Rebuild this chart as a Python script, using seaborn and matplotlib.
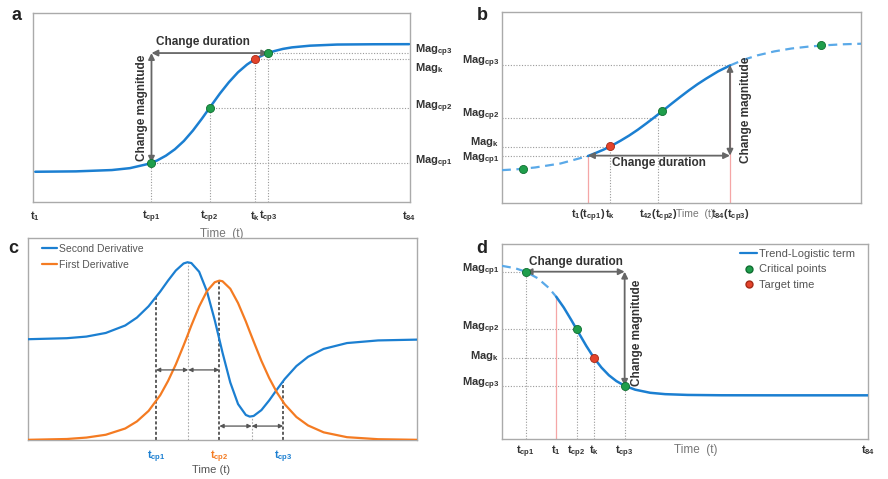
import numpy as np
import matplotlib
matplotlib.use("Agg")
import matplotlib.pyplot as plt
from matplotlib.lines import Line2D
import seaborn as sns

# ---- panel a: increasing logistic, critical points inside the series
a_time = [1, 10, 18, 22, 26, 28, 30, 32, 34, 36, 38, 40, 42, 44, 46, 48, 50, 52, 54, 56, 58, 62, 68, 76, 84]
a_radiance = [16.0, 16.2, 16.9, 17.9, 20.1, 21.9, 24.5, 27.9, 32.3, 37.8, 44.1, 50.8, 57.4, 63.4, 68.6,
              72.7, 75.9, 78.2, 79.8, 81.0, 81.8, 82.7, 83.3, 83.45, 83.5]
a_crit_t = [26.8, 39.7, 52.7]
a_crit_mag = [20.8, 49.8, 78.8]
a_k_t = 49.7
a_k_mag = 75.5
a_ticks = [1, 26.8, 39.7, 49.7, 52.7, 84]
a_ticklabels = [r"$\mathbf{t_1}$", r"$\mathbf{t_{cp1}}$", r"$\mathbf{t_{cp2}}$", r"$\mathbf{t_k}$",
                r"$\mathbf{t_{cp3}}$", r"$\mathbf{t_{84}}$"]

# ---- panel b: series window covers only part of the logistic
b_time = [-49.3, -40, -30, -15, 1, 5, 10, 15, 20, 25, 30, 35, 40, 45, 50, 55, 60, 65, 70, 77, 84,
          92, 100, 110, 120, 130, 140, 150, 160.6]
b_radiance = [17.2, 17.7, 18.6, 20.7, 24.6, 26.0, 27.9, 30.1, 32.6, 35.3, 38.3, 41.6, 45.0, 48.5, 52.1,
              55.6, 59.0, 62.2, 65.1, 68.9, 72.0, 75.0, 77.3, 79.4, 80.9, 81.9, 82.6, 83.1, 83.4]
b_crit_t = [-37, 44.3, 137.2]
b_crit_mag = [18.0, 48.0, 82.5]
b_k_t = 13.9
b_k_mag = 29.6
b_mag_levels = {"cp3": 72.3, "cp2": 44.5, "k": 29.5, "cp1": 24.8}
b_mag_times = {"cp3": 84, "cp2": 42, "k": 13.9, "cp1": 1}
b_ticks = [1, 13.9, 42, 84]
b_ticklabels = [r"$\mathbf{t_1(t_{cp1})}$", r"$\mathbf{t_k}$", r"$\mathbf{t_{42}(t_{cp2})}$",
                r"$\mathbf{t_{84}(t_{cp3})}$"]

# ---- panel c: derivatives
c_x = [0, 10, 15, 20, 25, 28, 31, 34, 36, 38, 40, 41, 42, 44, 46, 48, 49.2, 50, 52, 54, 56, 57, 58,
       60, 62, 64, 66, 69, 72, 76, 82, 90, 100]
c_second = [49.9, 50.4, 51.2, 53.0, 56.7, 60.6, 66.2, 73.5, 78.9, 83.9, 87.4, 88.0, 87.6, 83.3, 73.6,
            59.4, 49.8, 43.3, 28.5, 17.8, 12.4, 11.6, 11.9, 14.8, 19.6, 25.0, 30.2, 36.6, 41.2, 45.1,
            48.0, 49.3, 49.7]
c_first = [0.1, 0.5, 1.2, 2.6, 5.7, 9.2, 14.4, 22.2, 29.2, 37.4, 46.8, 51.7, 56.7, 66.1, 73.7, 78.1,
           78.9, 78.6, 74.9, 67.8, 58.7, 53.7, 48.8, 39.2, 30.7, 23.5, 17.7, 11.4, 7.2, 3.8, 1.4, 0.4, 0.1]
c_cp_x = [32.9, 49.2, 65.6]
c_cp_top = [70.8, 78.9, 28.5]
c_ext_x = [41.2, 57.5]
c_ext_top = [88.0, 11.6]
c_ticklabels = [r"$\mathbf{t_{cp1}}$", r"$\mathbf{t_{cp2}}$", r"$\mathbf{t_{cp3}}$"]

# ---- panel d: decreasing logistic
d_time = [-13.46, -10, -7.15, -4, -1, 1, 3, 5, 7, 9, 11, 13, 15, 17, 19.2, 22, 26, 30, 36, 45, 60, 84]
d_radiance = [88.8, 87.6, 85.8, 82.5, 77.5, 72.9, 67.4, 61.0, 54.3, 47.7, 41.7, 36.7, 32.7, 29.7, 27.3,
              25.3, 23.7, 23.0, 22.6, 22.43, 22.4, 22.4]
d_crit_t = [-7.15, 6.43, 19.2]
d_crit_mag = [85.8, 56.2, 27.3]
d_k_t = 11.04
d_k_mag = 41.6
d_ticks = [-7.15, 1, 6.43, 11.04, 19.2, 84]
d_ticklabels = [r"$\mathbf{t_{cp1}}$", r"$\mathbf{t_1}$", r"$\mathbf{t_{cp2}}$", r"$\mathbf{t_k}$",
                r"$\mathbf{t_{cp3}}$", r"$\mathbf{t_{84}}$"]

BLUE = "#1b7fd1"
LBLUE = "#5aa9e8"
ORANGE = "#f47b22"
GREEN = "#1f9e4b"
RED = "#e4432b"
PINK = "#f5a6a6"
GUIDE = "#9a9a9a"
ARROW = "#666666"
TXT = "#333333"
GREY_TXT = "#777777"

sns.set_style("white")
plt.rcParams["font.family"] = ["Liberation Sans", "DejaVu Sans"]
plt.rcParams["mathtext.fontset"] = "custom"
plt.rcParams["mathtext.rm"] = "Liberation Sans"
plt.rcParams["mathtext.bf"] = "Liberation Sans:bold"
plt.rcParams["mathtext.it"] = "Liberation Sans:italic"
plt.rcParams["font.size"] = 8

YLABEL = "Radiance / nWatts/cm²/sr"
TICK_FS = 7.8
MAG_FS = 8


def style_axes(ax):
    for s in ax.spines.values():
        s.set_color("#aaaaaa")
        s.set_linewidth(1.0)
    ax.set_yticks([])
    ax.tick_params(axis="x", length=0, colors=TXT, labelsize=TICK_FS)


def guide(ax, x0, y0, x1, y1, color=GUIDE, ls=(0, (1, 1.5)), lw=0.8):
    ax.plot([x0, x1], [y0, y1], color=color, ls=ls, lw=lw, zorder=1)


def arrow(ax, p0, p1, lw=1.3, ms=9, color=ARROW):
    ax.annotate("", xy=p1, xytext=p0,
                arrowprops=dict(arrowstyle="<|-|>", color=color, lw=lw, mutation_scale=ms,
                                shrinkA=0, shrinkB=0), zorder=4)


def points(ax, xs, ys, color, edge):
    sns.scatterplot(x=xs, y=ys, ax=ax, color=color, s=34, edgecolor=edge, linewidth=0.6,
                    zorder=5, legend=False)


fig = plt.figure(figsize=(8.88, 4.79), dpi=100)

# ================= a =================
ax = fig.add_axes([0.0372, 0.5783, 0.4245, 0.3946])
style_axes(ax)
ax.set_xlim(0.5, 84.2)
ax.set_ylim(0, 100)
sns.lineplot(x=a_time, y=a_radiance, ax=ax, color=BLUE, lw=1.8, sort=False, estimator=None, zorder=3)
for t, m in zip(a_crit_t + [a_k_t], a_crit_mag + [a_k_mag]):
    guide(ax, t, 0, t, m)
    guide(ax, t, m, 84.2, m)
points(ax, a_crit_t, a_crit_mag, GREEN, "#0f6e31")
points(ax, [a_k_t], [a_k_mag], RED, "#a52a16")
arrow(ax, (a_crit_t[0], a_crit_mag[2]), (a_crit_t[2], a_crit_mag[2]))
arrow(ax, (a_crit_t[0], a_crit_mag[0]), (a_crit_t[0], a_crit_mag[2]))
ax.text(38.2, 84.9, "Change duration", ha="center", va="center", fontsize=8.5, fontweight="bold", color=TXT)
ax.text(24.8, 49.7, "Change magnitude", ha="center", va="center", rotation=90, fontsize=8.5,
        fontweight="bold", color=TXT)
ax.set_xticks(a_ticks)
ax.set_xticklabels(a_ticklabels)
ax.tick_params(axis="x", pad=5)
ax.set_xlabel("Time  (t)", color=GREY_TXT, fontsize=8.5, labelpad=2)
ax.set_ylabel(YLABEL, color=GREY_TXT, fontsize=8.5, labelpad=5)
ytr = ax.get_yaxis_transform()
for name, m, off in [("cp3", a_crit_mag[2], 1.0), ("k", a_k_mag, -4.8), ("cp2", a_crit_mag[1], 0.3),
                     ("cp1", a_crit_mag[0], 0.3)]:
    ax.text(1.013, m + off, r"$\mathbf{Mag_{%s}}$" % name, transform=ytr, ha="left", va="center",
            fontsize=MAG_FS, color=TXT)

# ================= b =================
ax = fig.add_axes([0.5653, 0.5762, 0.4043, 0.3987])
style_axes(ax)
ax.set_xlim(-49.3, 160.6)
ax.set_ylim(0, 100)
bt = np.array(b_time)
br = np.array(b_radiance)
left = bt <= 1
mid = (bt >= 1) & (bt <= 84)
right = bt >= 84
sns.lineplot(x=bt[left], y=br[left], ax=ax, color=LBLUE, lw=1.6, ls=(0, (4, 2.5)), sort=False,
             estimator=None, zorder=3)
sns.lineplot(x=bt[right], y=br[right], ax=ax, color=LBLUE, lw=1.6, ls=(0, (4, 2.5)), sort=False,
             estimator=None, zorder=3)
sns.lineplot(x=bt[mid], y=br[mid], ax=ax, color=BLUE, lw=1.8, sort=False, estimator=None, zorder=3)
label_offsets = {"cp3": 1.5, "cp2": 1.5, "k": 2.6, "cp1": -1.6}
for name in ["cp3", "cp2", "k", "cp1"]:
    t, m = b_mag_times[name], b_mag_levels[name]
    guide(ax, -49.3, m, t, m)
    if name in ("cp2", "k"):
        guide(ax, t, 0, t, m)
    else:
        guide(ax, t, 0, t, m, color=PINK, ls="-", lw=0.9)
    ax.text(-0.008, m + label_offsets[name], r"$\mathbf{Mag_{%s}}$" % name,
            transform=ax.get_yaxis_transform(), ha="right", va="center", fontsize=MAG_FS, color=TXT)
points(ax, b_crit_t, b_crit_mag, GREEN, "#0f6e31")
points(ax, [b_k_t], [b_k_mag], RED, "#a52a16")
arrow(ax, (1, b_mag_levels["cp1"]), (84, b_mag_levels["cp1"]))
arrow(ax, (84, b_mag_levels["cp1"]), (84, b_mag_levels["cp3"]))
ax.text(42.5, 21.0, "Change duration", ha="center", va="center", fontsize=8.5, fontweight="bold", color=TXT)
ax.text(93.4, 48.7, "Change magnitude", ha="center", va="center", rotation=90, fontsize=8.5,
        fontweight="bold", color=TXT)
ax.set_xticks(b_ticks)
ax.set_xticklabels(b_ticklabels)
ax.tick_params(axis="x", pad=3)
ax.text(63.5, -0.058, "Time  (t)", transform=ax.get_xaxis_transform(), ha="center", va="center",
        color=GREY_TXT, fontsize=7.5)
ax.yaxis.set_label_position("right")
ax.set_ylabel(YLABEL, color=GREY_TXT, fontsize=8.5, labelpad=6)

# ================= c =================
ax = fig.add_axes([0.0315, 0.0814, 0.4381, 0.4217])
style_axes(ax)
ax.set_xlim(0, 100)
ax.set_ylim(0, 100)
sns.lineplot(x=c_x, y=c_second, ax=ax, color=BLUE, lw=1.6, sort=False, estimator=None, zorder=3,
             label="Second Derivative")
sns.lineplot(x=c_x, y=c_first, ax=ax, color=ORANGE, lw=1.6, sort=False, estimator=None, zorder=3,
             label="First Derivative")
for x, top in zip(c_cp_x, c_cp_top):
    guide(ax, x, 0, x, top, color="#333333", ls=(0, (2, 1.4)), lw=1.1)
for x, top in zip(c_ext_x, c_ext_top):
    guide(ax, x, 0, x, top, color="#aaaaaa", ls=(0, (1.5, 1.5)), lw=0.8)
arrow(ax, (c_cp_x[0], 34.7), (c_ext_x[0], 34.7), lw=0.9, ms=6, color="#555555")
arrow(ax, (c_ext_x[0], 34.7), (c_cp_x[1], 34.7), lw=0.9, ms=6, color="#555555")
arrow(ax, (c_cp_x[1], 6.9), (c_ext_x[1], 6.9), lw=0.9, ms=6, color="#555555")
arrow(ax, (c_ext_x[1], 6.9), (c_cp_x[2], 6.9), lw=0.9, ms=6, color="#555555")
ax.set_xticks(c_cp_x)
ax.set_xticklabels(c_ticklabels)
ax.tick_params(axis="x", pad=6)
for lab, col in zip(ax.get_xticklabels(), [BLUE, ORANGE, BLUE]):
    lab.set_color(col)
ax.text(0.47, -0.149, "Time (t)", transform=ax.transAxes, ha="center", va="center", color="#555555",
        fontsize=8)
leg = ax.legend(loc="upper left", bbox_to_anchor=(0.035, 0.97), frameon=False, fontsize=7.5,
                handlelength=1.5, handletextpad=0.15, labelspacing=0.55, borderaxespad=0, borderpad=0)
for txt in leg.get_texts():
    txt.set_color("#555555")

# ================= d =================
ax = fig.add_axes([0.5653, 0.0835, 0.4122, 0.4071])
style_axes(ax)
ax.set_xlim(-13.46, 84)
ax.set_ylim(0, 100)
dt = np.array(d_time)
dr = np.array(d_radiance)
sns.lineplot(x=dt[dt <= 1], y=dr[dt <= 1], ax=ax, color=LBLUE, lw=1.6, ls=(0, (4, 2.5)), sort=False,
             estimator=None, zorder=3)
sns.lineplot(x=dt[dt >= 1], y=dr[dt >= 1], ax=ax, color=BLUE, lw=1.8, sort=False, estimator=None, zorder=3)
names = ["cp1", "cp2", "cp3"]
for name, t, m in zip(names, d_crit_t, d_crit_mag):
    guide(ax, -13.46, m, t, m)
    guide(ax, t, 0, t, m)
    ax.text(-0.008, m + 0.8, r"$\mathbf{Mag_{%s}}$" % name, transform=ax.get_yaxis_transform(),
            ha="right", va="center", fontsize=MAG_FS, color=TXT)
guide(ax, -13.46, d_k_mag, d_k_t, d_k_mag)
guide(ax, d_k_t, 0, d_k_t, d_k_mag)
ax.text(-0.008, d_k_mag + 0.8, r"$\mathbf{Mag_{k}}$", transform=ax.get_yaxis_transform(),
        ha="right", va="center", fontsize=MAG_FS, color=TXT)
guide(ax, 1, 0, 1, 72.9, color=PINK, ls="-", lw=0.9)
points(ax, d_crit_t, d_crit_mag, GREEN, "#0f6e31")
points(ax, [d_k_t], [d_k_mag], RED, "#a52a16")
arrow(ax, (d_crit_t[0], d_crit_mag[0]), (d_crit_t[2], d_crit_mag[0]))
arrow(ax, (d_crit_t[2], d_crit_mag[0]), (d_crit_t[2], d_crit_mag[2]))
ax.text(6.2, 90.6, "Change duration", ha="center", va="center", fontsize=8.5, fontweight="bold", color=TXT)
ax.text(22.4, 54.4, "Change magnitude", ha="center", va="center", rotation=90, fontsize=8.5,
        fontweight="bold", color=TXT)
ax.set_xticks(d_ticks)
ax.set_xticklabels(d_ticklabels)
ax.tick_params(axis="x", pad=3)
ax.text(38.1, -0.056, "Time  (t)", transform=ax.get_xaxis_transform(), ha="center", va="center",
        color=GREY_TXT, fontsize=8.5)
ax.yaxis.set_label_position("right")
ax.set_ylabel(YLABEL, color=GREY_TXT, fontsize=8.5, labelpad=6)
handles = [Line2D([], [], color=BLUE, lw=1.6),
           Line2D([], [], ls="", marker="o", color=GREEN, markeredgecolor="#0f6e31", markersize=5),
           Line2D([], [], ls="", marker="o", color=RED, markeredgecolor="#a52a16", markersize=5)]
leg = ax.legend(handles, ["Trend-Logistic term", "Critical points", "Target time"], loc="upper right",
                bbox_to_anchor=(0.965, 0.975), frameon=False, fontsize=8, handlelength=1.5,
                handletextpad=0.2, labelspacing=0.5, borderaxespad=0, borderpad=0)
for txt in leg.get_texts():
    txt.set_color("#555555")

for letter, x, y in [("a", 17, 15), ("b", 482, 15), ("c", 13, 249), ("d", 482, 249)]:
    fig.text(x / 888, 1 - y / 479, letter, fontsize=13, fontweight="bold", ha="center", va="center",
             color="#222222")

fig.savefig("out.png", dpi=100)
